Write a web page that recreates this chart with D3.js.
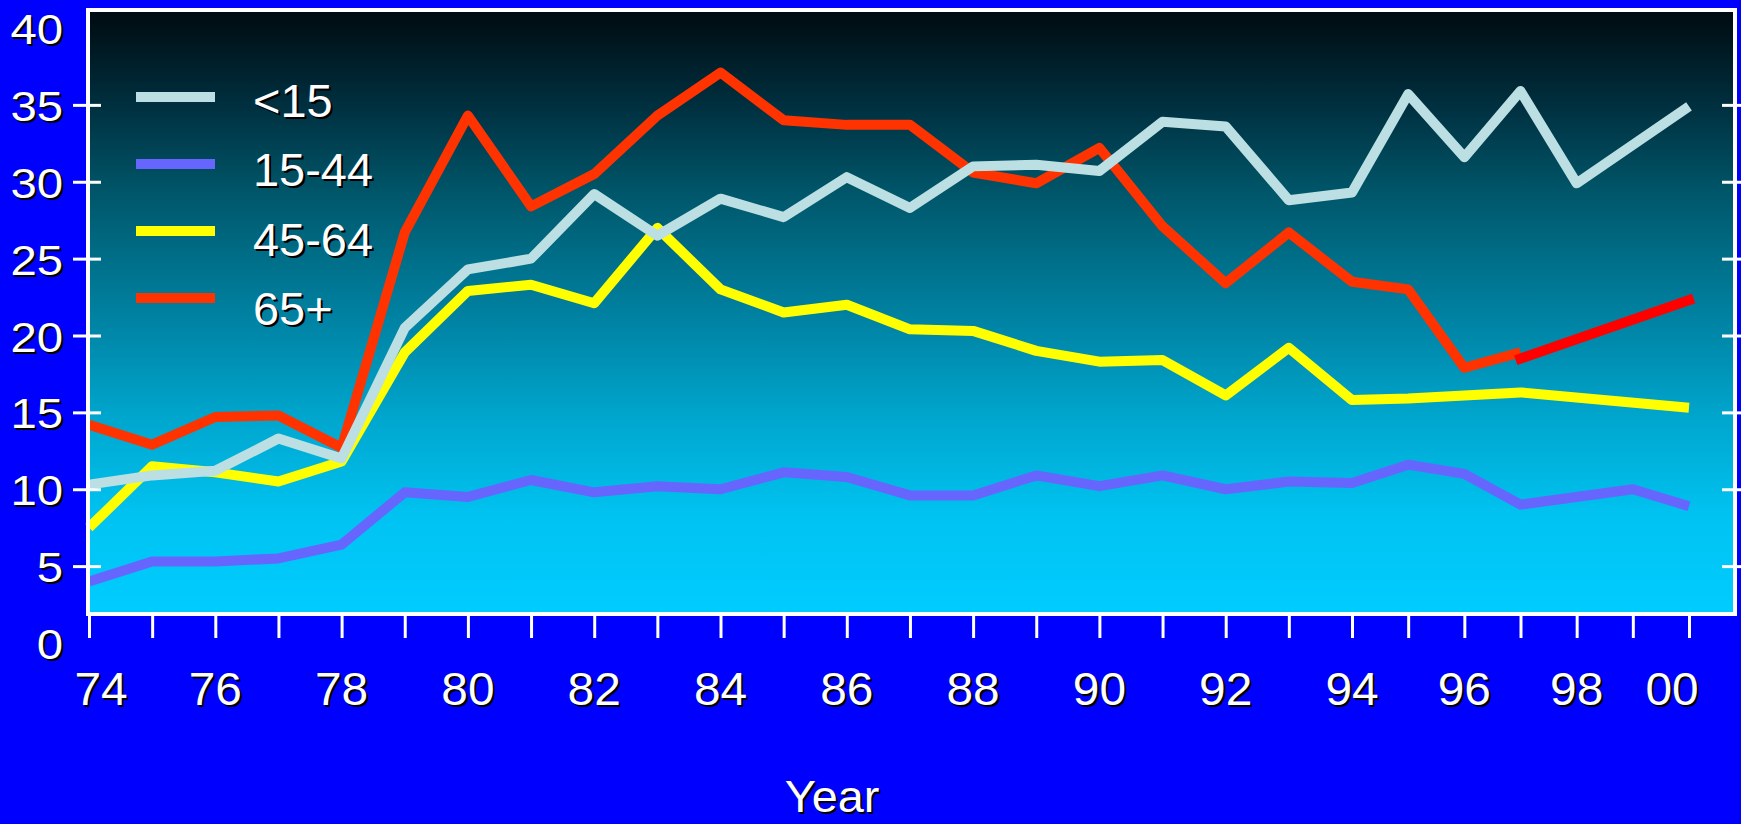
<!DOCTYPE html>
<html>
<head>
<meta charset="utf-8">
<script src="https://cdn.jsdelivr.net/npm/d3@7"></script>
<style>
html, body { margin: 0; padding: 0; background: #0000ff; overflow: hidden; }
svg { display: block; }
text { font-family: "Liberation Sans", Arial, sans-serif; }
</style>
</head>
<body>
<script>

// years along the bottom, one tick each
var years = [1974, 1975, 1976, 1977, 1978, 1979, 1980, 1981, 1982, 1983, 1984, 1985, 1986,
  1987, 1988, 1989, 1990, 1991, 1992, 1993, 1994, 1995, 1996, 1997, 1998, 1999, 2000]

var xLabelYears = [1974, 1976, 1978, 1980, 1982, 1984, 1986, 1988, 1990, 1992, 1994, 1996, 1998, 2000]
var xLabels = ['74', '76', '78', '80', '82', '84', '86', '88', '90', '92', '94', '96', '98', '00']

var yLabels = [0, 5, 10, 15, 20, 25, 30, 35, 40]
var yTicks = [5, 10, 15, 20, 25, 30, 35]

// values per age group (null = no point drawn that year)
var under15 = [10.3, 10.9, 11.2, 13.3, 12.0, 20.5, 24.3, 25.0, 29.2, 26.5, 28.9, 27.7, 30.3,
  28.3, 31.0, 31.1, 30.7, 33.9, 33.6, 28.8, 29.3, 35.7, 31.6, 35.9, 29.9, null, 34.9]

var age15to44 = [4.0, 5.3, 5.3, 5.5, 6.4, 9.8, 9.5, 10.6, 9.8, 10.2, 10.0, 11.1, 10.8,
  9.6, 9.6, 10.9, 10.2, 10.9, 10.0, 10.5, 10.4, 11.6, 11.0, 9.0, null, 10.0, 8.9]

var age45to64 = [7.5, 11.5, 11.1, 10.5, 11.8, 18.9, 22.9, 23.3, 22.1, 27.0, 23.0, 21.5, 22.0,
  20.4, 20.3, 19.0, 18.3, 18.4, 16.1, 19.2, 15.8, 15.9, 16.1, 16.3, null, null, 15.3]

var age65plus = [14.2, 12.9, 14.7, 14.8, 12.7, 26.7, 34.3, 28.4, 30.5, 34.3, 37.1, 34.0, 33.7,
  33.7, 30.6, 29.9, 32.2, 27.1, 23.4, 26.7, 23.5, 23.0, 17.9, 18.9, null, null, null]

// the later 65+ piece is drawn in a plain red
var age65plusLate = [null, null, null, null, null, null, null, null, null, null, null, null, null,
  null, null, null, null, null, null, null, null, null, null, 18.5, null, null, 22.3]

var seriesNames = ['<15', '15-44', '45-64', '65+']
var seriesColors = ['#bbdfe2', '#6666ff', '#ffff00', '#ff3300']

var width = 1741,
height = 824

var frameLeft = 88,
frameRight = 1735,
frameTop = 10,
frameBottom = 614

var svg = d3.select("body")
.append("svg")
.attr("width", width)
.attr("height", height)

// background gradient inside the frame
var grad = svg.append("defs")
.append("linearGradient")
.attr("id", "bg")
.attr("x1", 0).attr("y1", 0)
.attr("x2", 0).attr("y2", 1)

var stops = [[0, '#000a0f'], [0.16, '#003040'], [0.29, '#005366'], [0.41, '#006e88'],
  [0.54, '#0088aa'], [0.67, '#00a5cc'], [0.84, '#00c3f2'], [1, '#00ccff']]
grad.selectAll("stop")
.data(stops)
.enter().append("stop")
.attr("offset", function(d) { return d[0] })
.attr("stop-color", function(d) { return d[1] })

svg.append("rect")
.attr("x", frameLeft)
.attr("y", frameTop)
.attr("width", frameRight - frameLeft)
.attr("height", frameBottom - frameTop)
.attr("fill", "url(#bg)")

var xPositionScale = d3.scaleLinear().domain([1974, 1994, 2000]).range([89, 1352, 1689])
var yPositionScale = d3.scaleLinear().domain([0, 40]).range([643, 28])

// text with a small black drop shadow, slightly widened like the original
function shadowText(parent, x, y, txt, anchor, size, stretch) {
  var g = parent.append("g")
  .attr("transform", "translate(" + x + " " + y + ") scale(" + (stretch || 1) + " 1)")
  g.append("text")
  .attr("x", 2).attr("y", 2)
  .attr("text-anchor", anchor)
  .attr("font-size", size)
  .attr("fill", "#000000")
  .text(txt)
  g.append("text")
  .attr("x", 0).attr("y", 0)
  .attr("text-anchor", anchor)
  .attr("font-size", size)
  .attr("fill", "#ffffff")
  .text(txt)
  return g
}

// the lines
function toPoints(values) {
  return years.map(function(yr, i) { return { year: yr, value: values[i] } })
  .filter(function(d) { return d.value != null })
}

var line = d3.line()
.x(function(d) { return xPositionScale(d.year) })
.y(function(d) { return yPositionScale(d.value) })

var drawOrder = [
  { values: age15to44, color: seriesColors[1], cap: "butt" },
  { values: age45to64, color: seriesColors[2], cap: "butt" },
  { values: age65plus, color: seriesColors[3], cap: "butt" },
  { values: age65plusLate, color: '#ff0000', cap: "square" },
  { values: under15, color: seriesColors[0], cap: "butt" }
]

svg.selectAll(".series")
.data(drawOrder)
.enter().append("path")
.attr("class", "series")
.attr("d", function(d) { return line(toPoints(d.values)) })
.attr("fill", "none")
.attr("stroke", function(d) { return d.color })
.attr("stroke-width", 10)
.attr("stroke-linejoin", "round")
.attr("stroke-linecap", function(d) { return d.cap })

// frame
svg.append("rect")
.attr("x", frameLeft)
.attr("y", frameTop)
.attr("width", frameRight - frameLeft)
.attr("height", frameBottom - frameTop)
.attr("fill", "none")
.attr("stroke", "#ffffff")
.attr("stroke-width", 4)

// axes: ticks from d3, labels drawn by hand with shadow
var leftAxis = d3.axisLeft(yPositionScale).tickValues(yTicks).tickSize(28).tickFormat("")
var rightAxis = d3.axisLeft(yPositionScale).tickValues(yTicks).tickSize(19).tickFormat("")
var bottomAxis = d3.axisBottom(xPositionScale).tickValues(years).tickSize(24).tickFormat("")

svg.append("g").attr("transform", "translate(101 0)").call(leftAxis)
svg.append("g").attr("transform", "translate(1741 0)").call(rightAxis)
svg.append("g").attr("transform", "translate(0 614)").call(bottomAxis)

svg.selectAll(".domain").remove()
svg.selectAll(".tick line")
.attr("stroke", "#ffffff")
.attr("stroke-width", 3)

yLabels.forEach(function(v) {
  shadowText(svg, 63, yPositionScale(v) + 16, String(v), "end", 43, 1.1)
})

// end labels sit a little inside their ticks in the original
var xLabelNudge = { 1974: 12, 2000: -17 }
xLabelYears.forEach(function(yr, i) {
  shadowText(svg, xPositionScale(yr) + (xLabelNudge[yr] || 0), 705, xLabels[i], "middle", 46, 1.04)
})

shadowText(svg, 832, 812, "Year", "middle", 45, 1.04)

// legend
var legend = svg.append("g")
seriesNames.forEach(function(name, i) {
  legend.append("line")
  .attr("x1", 136)
  .attr("x2", 215)
  .attr("y1", 97 + i * 67)
  .attr("y2", 97 + i * 67)
  .attr("stroke", seriesColors[i])
  .attr("stroke-width", 10)
  shadowText(legend, 253, 117 + i * 69.3, name, "start", 46, 1.02)
})

</script>
</body>
</html>
